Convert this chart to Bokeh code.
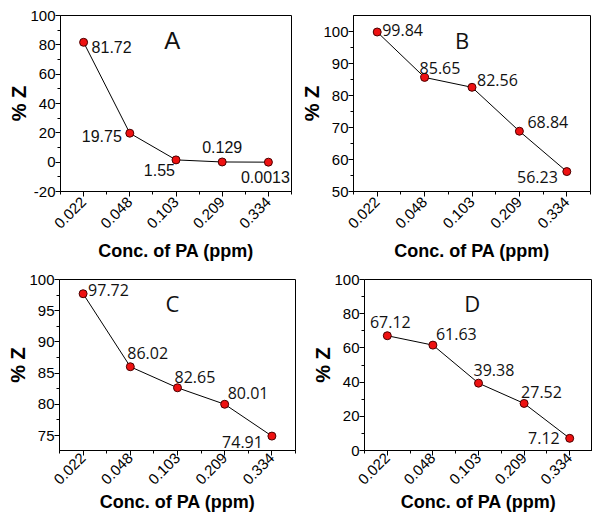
import math
from bokeh.plotting import figure
from bokeh.models import ColumnDataSource, FixedTicker, Range1d, Label
from bokeh.layouts import row, column
from bokeh.embed import file_html
from bokeh.resources import INLINE
from bokeh.core.properties import value

# ---- data ----
conc = ["0.022", "0.048", "0.103", "0.209", "0.334"]
z_a = [81.72, 19.75, 1.55, 0.129, 0.0013]
z_b = [99.84, 85.65, 82.56, 68.84, 56.23]
z_c = [97.72, 86.02, 82.65, 80.01, 74.91]
z_d = [67.12, 61.63, 39.38, 27.52, 7.12]

yticks_a = [-20, 0, 20, 40, 60, 80, 100]
yticks_b = [50, 60, 70, 80, 90, 100]
yticks_c = [75, 80, 85, 90, 95, 100]
yticks_d = [0, 20, 40, 60, 80, 100]

letters = ["A", "B", "C", "D"]
x_title = "Conc. of PA (ppm)"
y_title = "% Z"

# ---- styling / layout ----
AX_FONT = "Liberation Sans"


def panel(vals, yticks, yr, letter, letter_xy, offs, aligns, lab_font, lab_size,
          let_font, let_size, width, height, bl, br, bt, bb, xstand):
    p = figure(width=width, height=height,
               x_range=Range1d(-0.5, len(conc) - 0.5), y_range=Range1d(*yr),
               output_backend="svg", toolbar_location=None,
               min_border_left=bl, min_border_right=br,
               min_border_top=bt, min_border_bottom=bb)
    p.xgrid.visible = False
    p.ygrid.visible = False
    p.outline_line_color = "black"
    p.outline_line_width = 1
    p.outline_line_alpha = 1
    p.background_fill_color = "white"
    p.border_fill_color = "white"

    xs = list(range(len(conc)))
    xminor = [i - 0.5 for i in range(len(conc) + 1)]
    yminor = [(a + b) / 2 for a, b in zip(yticks[:-1], yticks[1:])]

    p.xaxis.ticker = FixedTicker(ticks=xs, minor_ticks=xminor)
    p.xaxis.major_label_overrides = {i: c for i, c in zip(xs, conc)}
    p.xaxis.major_label_orientation = math.pi / 4
    p.yaxis.ticker = FixedTicker(ticks=yticks, minor_ticks=yminor)
    p.yaxis.major_label_overrides = {t: str(t) for t in yticks}

    for ax in (p.xaxis[0], p.yaxis[0]):
        ax.axis_line_color = "black"
        ax.axis_line_width = 1
        ax.major_tick_line_color = "black"
        ax.minor_tick_line_color = "black"
        ax.major_tick_out = 5
        ax.major_tick_in = 0
        ax.minor_tick_out = 3
        ax.minor_tick_in = 0
        ax.major_label_text_font = AX_FONT
        ax.major_label_text_font_size = "15px"
        ax.major_label_text_color = "black"
        ax.axis_label_text_font = AX_FONT
        ax.axis_label_text_font_style = "bold"
        ax.axis_label_text_color = "black"
    p.xaxis.major_label_standoff = xstand[0]
    p.xaxis.axis_label_standoff = xstand[1]
    p.xaxis.axis_label_text_font_size = "18px"
    p.yaxis.major_label_standoff = 0
    p.yaxis.axis_label_standoff = -3
    p.yaxis.axis_label_text_font_size = "20px"
    p.xaxis.axis_label = x_title
    p.yaxis.axis_label = y_title

    src = ColumnDataSource(dict(
        x=xs, y=vals, t=[str(v) for v in vals],
        dx=[o[0] for o in offs], dy=[o[1] for o in offs], al=aligns))
    p.line("x", "y", source=src, line_color="black", line_width=1)
    p.scatter("x", "y", source=src, size=8, fill_color="#ee1111",
              line_color="#4a0000", line_width=1)
    p.text("x", "y", text="t", source=src, x_offset="dx", y_offset="dy",
           text_align="al", text_baseline="middle",
           text_font=value(lab_font), text_font_size=lab_size,
           text_color="#111111")
    p.add_layout(Label(x=letter_xy[0], y=letter_xy[1], text=letter,
                       text_align="center", text_baseline="middle",
                       text_font=let_font, text_font_size=let_size,
                       text_color="#111111"))
    return p


pa = panel(z_a, yticks_a, (-20, 100), letters[0], (1.92, 83),
           [(8, 5), (-8, 3), (-1, 10), (0, -15), (-3, 15)],
           ["left", "right", "right", "center", "center"],
           AX_FONT, "16px", AX_FONT, "24px",
           297, 265, 60, 6, 15, 74, (3, 5))
pb = panel(z_b, yticks_b, (50, 105), letters[1], (1.79, 97.5),
           [(5, -2), (-5, -9), (5, -7), (8, -9), (-9, 5)],
           ["left", "left", "left", "left", "right"],
           "Open Sans", "16px", "Open Sans", "22px",
           295, 265, 56, 2, 15, 74, (3, 5))
pc = panel(z_c, yticks_c, (72.6, 100), letters[2], (1.89, 96.3),
           [(5, -4), (-3, -14), (-3, -11), (3, -11), (-9, 6)],
           ["left", "left", "left", "left", "right"],
           "Open Sans", "16px", "Open Sans", "22px",
           297, 251, 59, 2, 10, 66, (0, 0))
pd_ = panel(z_d, yticks_d, (0, 100), letters[3], (1.86, 86.5),
            [(3, -14), (3, -11), (-5, -13), (-3, -11), (-10, 0)],
            ["center", "left", "left", "left", "right"],
            "Open Sans", "16px", "Open Sans", "22px",
            295, 251, 67, 0, 14, 66, (0, 0))

layout = column(row(pa, pb), row(pc, pd_))
open("out.html", "w").write(file_html(layout, INLINE))
